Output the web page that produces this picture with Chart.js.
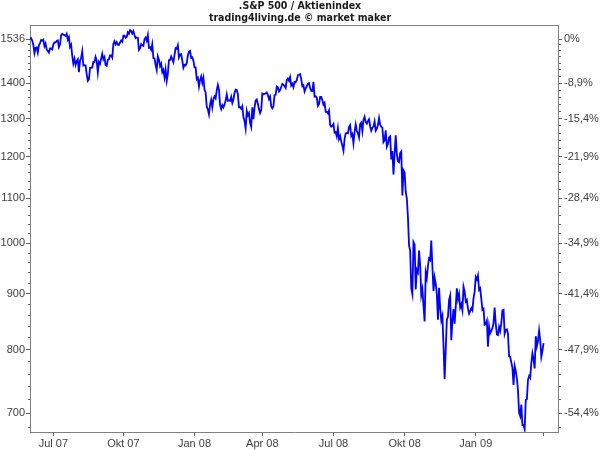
<!DOCTYPE html>
<html>
<head>
<meta charset="utf-8">
<script src="https://cdn.jsdelivr.net/npm/chart.js@4.4.1/dist/chart.umd.min.js"></script>
<style>
  html, body { margin: 0; padding: 0; background: #fff; }
</style>
</head>
<body>
<canvas id="kursChart" width="600" height="450"></canvas>
<script>
// S&P 500 Schlusskurse, ein Wert pro Handelstag ab 1. Juni 2007
const kurse2007 = [
  1536, 1539, 1531, 1517, 1491, 1508, 1509, 1493, 1516, 1523, 1533, 1531, 1534, 1513, 1522, 1503, 1498, 1493, 1506, 1506, 1503,
  1519, 1525, 1525, 1530, 1532, 1510, 1519, 1548, 1553, 1550, 1549, 1546, 1553, 1534, 1542, 1511, 1518, 1483, 1459, 1474, 1455,
  1466, 1472, 1433, 1468, 1477, 1497, 1453, 1454, 1453, 1427, 1407, 1411, 1446, 1446, 1447, 1464, 1463, 1479, 1467, 1432, 1464, 1458, 1474,
  1489, 1472, 1479, 1454, 1452, 1471, 1472, 1484, 1484, 1477, 1520, 1529, 1519, 1526, 1518, 1517, 1525, 1531, 1527,
  1547, 1547, 1540, 1543, 1558, 1553, 1565, 1562, 1554, 1562, 1549, 1539, 1541, 1540, 1501, 1506, 1520, 1516, 1514, 1535, 1541, 1531, 1549,
  1508, 1510, 1502, 1520, 1476, 1475, 1454, 1439, 1481, 1471, 1451, 1459, 1433, 1440, 1417, 1441, 1407, 1428, 1469, 1470, 1481,
  1472, 1463, 1485, 1507, 1505, 1516, 1478, 1487, 1488, 1468, 1446, 1455, 1453, 1460, 1484, 1496, 1498, 1476, 1478, 1468
];
const kurse2008 = [
  1447, 1447, 1412, 1416, 1390, 1409, 1420, 1401, 1416, 1381, 1373, 1333, 1325, 1311, 1339, 1352, 1331, 1354, 1362, 1356, 1379,
  1395, 1381, 1337, 1326, 1337, 1331, 1339, 1349, 1367, 1349, 1350, 1349, 1360, 1343, 1353, 1372, 1381, 1380, 1368, 1331,
  1331, 1327, 1334, 1304, 1293, 1273, 1321, 1309, 1315, 1288, 1277, 1331, 1298, 1330, 1350, 1353, 1341, 1326, 1315, 1323,
  1370, 1368, 1369, 1370, 1373, 1366, 1354, 1361, 1333, 1328, 1334, 1365, 1366, 1390, 1388, 1376, 1380, 1389, 1398, 1396, 1391, 1386,
  1409, 1414, 1407, 1418, 1393, 1398, 1388, 1404, 1403, 1409, 1424, 1425, 1427, 1413, 1391, 1394, 1376, 1385, 1391, 1398, 1400,
  1386, 1378, 1377, 1404, 1361, 1362, 1358, 1335, 1340, 1360, 1360, 1351, 1338, 1343, 1318, 1318, 1314, 1322, 1283, 1278, 1280,
  1285, 1262, 1263, 1252, 1274, 1245, 1253, 1239, 1228, 1215, 1245, 1260, 1261, 1260, 1277, 1282, 1253, 1258, 1234, 1263, 1284, 1267,
  1260, 1249, 1285, 1289, 1266, 1296, 1305, 1290, 1286, 1293, 1298, 1279, 1267, 1275, 1278, 1292, 1267, 1272, 1282, 1301, 1283,
  1278, 1275, 1237, 1242, 1268, 1225, 1232, 1249, 1252, 1193, 1214, 1156, 1207, 1255, 1207, 1188, 1186, 1209, 1213, 1106, 1166,
  1161, 1114, 1099, 1057, 996, 985, 910, 899, 1003, 998, 908, 946, 941, 985, 955, 897, 908, 877, 849, 941, 930, 954, 969,
  966, 1006, 953, 905, 931, 919, 899, 852, 911, 873, 851, 859, 807, 752, 800, 852, 857, 888, 896,
  816, 849, 871, 845, 876, 910, 889, 899, 874, 880, 869, 913, 904, 885, 888, 872, 863, 868, 873, 869, 891, 903
];
const kurse2009 = [
  932, 927, 935, 907, 910, 890, 870, 872, 843, 844, 850, 805, 840, 828, 832, 837, 846, 874, 845, 826,
  825, 839, 832, 846, 869, 870, 827, 834, 835, 827, 789, 788, 779, 770, 743, 773, 765, 753, 735,
  701, 696, 713, 683, 683, 677, 720, 721, 751, 757, 754, 778, 794, 784, 769, 823, 806, 814, 833, 816, 788, 798,
  811
];

// Bezugswert fuer die Prozentachse rechts
const startwert = 1536;

// Quartalsmarken auf der Zeitachse (Index des Handelstags)
const xTickIndex = [21, 84, 148, 209, 273, 337, 401, 462];
const xTickLabels = ['Jul 07', 'Okt 07', 'Jan 08', 'Apr 08', 'Jul 08', 'Okt 08', 'Jan 09', ''];

// beschriftete Kurswerte, dazu kleine Striche alle 20 Punkte
const yHaupt = [700, 800, 900, 1000, 1100, 1200, 1300, 1400, 1536];
const yNeben = [];
for (let v = 680; v <= 1520; v += 20) {
    if (!yHaupt.includes(v)) yNeben.push(v);
}
const yAlle = yHaupt.concat(yNeben).sort((a, b) => a - b);

const kurse = kurse2007.concat(kurse2008, kurse2009);
const punkte = kurse.map((k, i) => ({ x: i, y: k }));

const schrift = { family: "'Liberation Sans', Arial, sans-serif", size: 11 };
const achsenFarbe = '#808080';
const strichFarbe = '#606060';
const textFarbe = '#404040';

function prozent(v) {
    if (v === startwert) return '0%';
    return ((v / startwert - 1) * 100).toFixed(1).replace('.', ',') + '%';
}

// obere Rahmenlinie des Diagramms
const rahmenPlugin = {
    id: 'rahmen',
    afterDraw(chart) {
        const a = chart.chartArea;
        const ctx = chart.ctx;
        ctx.save();
        ctx.strokeStyle = achsenFarbe;
        ctx.lineWidth = 1;
        ctx.beginPath();
        ctx.moveTo(a.left, a.top + 0.5);
        ctx.lineTo(a.right, a.top + 0.5);
        ctx.stroke();
        ctx.restore();
    }
};

new Chart(document.getElementById('kursChart'), {
    type: 'line',
    data: {
        datasets: [{
            label: 'S&P 500',
            data: punkte,
            borderColor: '#0000ff',
            borderWidth: 1.8,
            pointRadius: 0,
            tension: 0,
            fill: false,
            yAxisID: 'y'
        }]
    },
    options: {
        responsive: false,
        animation: false,
        plugins: {
            legend: { display: false },
            tooltip: { enabled: false },
            title: {
                display: true,
                text: ['.S&P 500 / Aktienindex', 'trading4living.de © market maker'],
                color: '#1a1a1a',
                font: { family: "'DejaVu Sans Condensed', 'DejaVu Sans', sans-serif", size: 10.5, weight: 'bold', lineHeight: '12px' },
                padding: { top: 0, bottom: 1 }
            }
        },
        scales: {
            x: {
                type: 'linear',
                position: 'bottom',
                min: 0,
                max: 475,
                afterBuildTicks: s => { s.ticks = xTickIndex.map(v => ({ value: v })); },
                afterFit: s => { s.height = 18; },
                ticks: {
                    autoSkip: false,
                    maxRotation: 0,
                    padding: 1,
                    color: textFarbe,
                    font: schrift,
                    callback: (v, i) => xTickLabels[i]
                },
                grid: { drawOnChartArea: false, drawTicks: true, tickLength: 4, tickColor: strichFarbe },
                border: { color: achsenFarbe }
            },
            y: {
                type: 'logarithmic',
                position: 'left',
                min: 673,
                max: 1582,
                afterBuildTicks: s => { s.ticks = yAlle.map(v => ({ value: v })); },
                afterFit: s => { s.width = 30; },
                ticks: {
                    autoSkip: false,
                    padding: 1,
                    color: textFarbe,
                    font: schrift,
                    callback: v => yHaupt.includes(v) ? String(v) : ''
                },
                grid: {
                    drawOnChartArea: false,
                    drawTicks: true,
                    tickLength: 4,
                    tickColor: strichFarbe,
                    tickBorderDash: c => (c.tick && yNeben.includes(c.tick.value)) ? [0, 2, 10] : []
                },
                border: { color: achsenFarbe }
            },
            y1: {
                type: 'logarithmic',
                position: 'right',
                min: 673,
                max: 1582,
                afterBuildTicks: s => { s.ticks = yAlle.map(v => ({ value: v })); },
                afterFit: s => { s.width = 42; },
                ticks: {
                    autoSkip: false,
                    padding: 2,
                    color: textFarbe,
                    font: schrift,
                    callback: v => yHaupt.includes(v) ? prozent(v) : ''
                },
                grid: {
                    drawOnChartArea: false,
                    drawTicks: true,
                    tickLength: 4,
                    tickColor: strichFarbe,
                    tickBorderDash: c => (c.tick && yNeben.includes(c.tick.value)) ? [2, 10] : []
                },
                border: { color: achsenFarbe }
            }
        }
    },
    plugins: [rahmenPlugin]
});
</script>
</body>
</html>
